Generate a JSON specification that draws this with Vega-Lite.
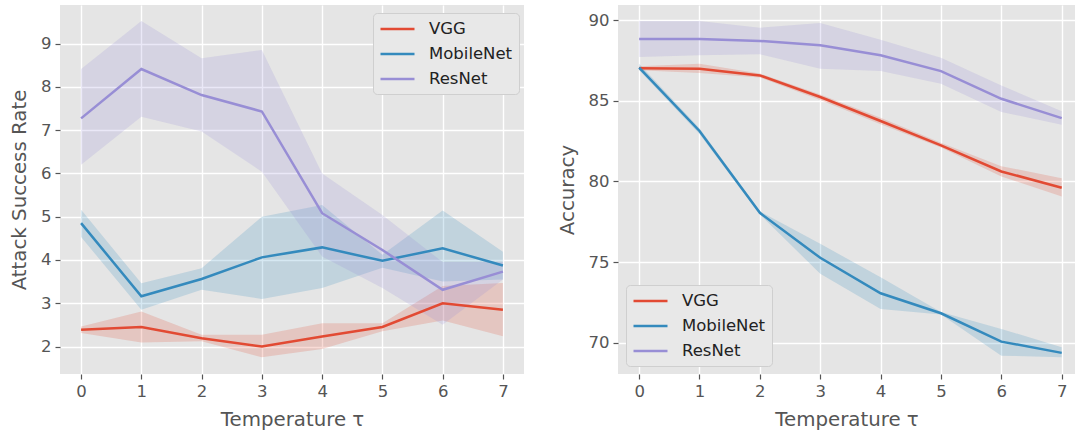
{
  "$schema": "https://vega.github.io/schema/vega-lite/v6.json",
  "padding": {"left": 9, "top": 5, "right": 0, "bottom": 0},
  "background": "white",
  "spacing": 33,
  "datasets": {
    "asr": [
      {"model": "VGG", "t": 0, "mean": 2.39, "lo": 2.31, "hi": 2.46},
      {"model": "VGG", "t": 1, "mean": 2.45, "lo": 2.09, "hi": 2.81},
      {"model": "VGG", "t": 2, "mean": 2.19, "lo": 2.12, "hi": 2.27},
      {"model": "VGG", "t": 3, "mean": 2.00, "lo": 1.75, "hi": 2.27},
      {"model": "VGG", "t": 4, "mean": 2.23, "lo": 1.94, "hi": 2.54},
      {"model": "VGG", "t": 5, "mean": 2.45, "lo": 2.35, "hi": 2.54},
      {"model": "VGG", "t": 6, "mean": 3.00, "lo": 2.60, "hi": 3.40},
      {"model": "VGG", "t": 7, "mean": 2.85, "lo": 2.24, "hi": 3.47},
      {"model": "MobileNet", "t": 0, "mean": 4.85, "lo": 4.53, "hi": 5.16},
      {"model": "MobileNet", "t": 1, "mean": 3.16, "lo": 2.85, "hi": 3.46},
      {"model": "MobileNet", "t": 2, "mean": 3.56, "lo": 3.31, "hi": 3.81},
      {"model": "MobileNet", "t": 3, "mean": 4.06, "lo": 3.10, "hi": 5.00},
      {"model": "MobileNet", "t": 4, "mean": 4.29, "lo": 3.35, "hi": 5.27},
      {"model": "MobileNet", "t": 5, "mean": 3.98, "lo": 3.82, "hi": 4.12},
      {"model": "MobileNet", "t": 6, "mean": 4.27, "lo": 3.50, "hi": 5.14},
      {"model": "MobileNet", "t": 7, "mean": 3.87, "lo": 3.55, "hi": 4.19},
      {"model": "ResNet", "t": 0, "mean": 7.27, "lo": 6.20, "hi": 8.41},
      {"model": "ResNet", "t": 1, "mean": 8.41, "lo": 7.31, "hi": 9.52},
      {"model": "ResNet", "t": 2, "mean": 7.81, "lo": 6.97, "hi": 8.66},
      {"model": "ResNet", "t": 3, "mean": 7.43, "lo": 6.04, "hi": 8.85},
      {"model": "ResNet", "t": 4, "mean": 5.08, "lo": 4.08, "hi": 6.00},
      {"model": "ResNet", "t": 5, "mean": 4.23, "lo": 3.35, "hi": 5.04},
      {"model": "ResNet", "t": 6, "mean": 3.31, "lo": 2.50, "hi": 3.95},
      {"model": "ResNet", "t": 7, "mean": 3.73, "lo": 3.55, "hi": 3.95}
    ],
    "acc": [
      {"model": "VGG", "t": 0, "mean": 87.02, "lo": 86.90, "hi": 87.15},
      {"model": "VGG", "t": 1, "mean": 87.00, "lo": 86.73, "hi": 87.30},
      {"model": "VGG", "t": 2, "mean": 86.58, "lo": 86.45, "hi": 86.70},
      {"model": "VGG", "t": 3, "mean": 85.24, "lo": 85.05, "hi": 85.40},
      {"model": "VGG", "t": 4, "mean": 83.75, "lo": 83.55, "hi": 83.95},
      {"model": "VGG", "t": 5, "mean": 82.24, "lo": 82.10, "hi": 82.40},
      {"model": "VGG", "t": 6, "mean": 80.62, "lo": 80.31, "hi": 80.95},
      {"model": "VGG", "t": 7, "mean": 79.61, "lo": 79.07, "hi": 80.20},
      {"model": "MobileNet", "t": 0, "mean": 87.06, "lo": 86.90, "hi": 87.30},
      {"model": "MobileNet", "t": 1, "mean": 83.13, "lo": 82.95, "hi": 83.30},
      {"model": "MobileNet", "t": 2, "mean": 78.05, "lo": 77.95, "hi": 78.15},
      {"model": "MobileNet", "t": 3, "mean": 75.26, "lo": 74.27, "hi": 76.13},
      {"model": "MobileNet", "t": 4, "mean": 73.06, "lo": 72.09, "hi": 74.06},
      {"model": "MobileNet", "t": 5, "mean": 71.82, "lo": 71.75, "hi": 71.90},
      {"model": "MobileNet", "t": 6, "mean": 70.06, "lo": 69.19, "hi": 70.85},
      {"model": "MobileNet", "t": 7, "mean": 69.36, "lo": 69.09, "hi": 69.71},
      {"model": "ResNet", "t": 0, "mean": 88.84, "lo": 87.72, "hi": 89.96},
      {"model": "ResNet", "t": 1, "mean": 88.84, "lo": 87.83, "hi": 89.96},
      {"model": "ResNet", "t": 2, "mean": 88.72, "lo": 87.89, "hi": 89.54},
      {"model": "ResNet", "t": 3, "mean": 88.45, "lo": 87.00, "hi": 89.83},
      {"model": "ResNet", "t": 4, "mean": 87.83, "lo": 86.85, "hi": 88.80},
      {"model": "ResNet", "t": 5, "mean": 86.85, "lo": 86.07, "hi": 87.68},
      {"model": "ResNet", "t": 6, "mean": 85.13, "lo": 84.31, "hi": 85.96},
      {"model": "ResNet", "t": 7, "mean": 83.93, "lo": 83.52, "hi": 84.35}
    ]
  },
  "hconcat": [
    {
      "width": 464,
      "height": 369,
      "data": {"name": "asr"},
      "layer": [
        {
          "mark": {"type": "area", "opacity": 0.2},
          "encoding": {
            "x": {"field": "t", "type": "quantitative", "scale": {"domain": [-0.35, 7.35], "nice": false, "zero": false}, "axis": {"values": [0, 1, 2, 3, 4, 5, 6, 7], "title": "Temperature τ", "format": "d"}},
            "y": {"field": "lo", "type": "quantitative", "scale": {"domain": [1.365, 9.89], "nice": false, "zero": false}, "axis": {"values": [2, 3, 4, 5, 6, 7, 8, 9], "title": "Attack Success Rate"}},
            "y2": {"field": "hi"},
            "color": {"field": "model", "type": "nominal", "sort": ["VGG", "MobileNet", "ResNet"], "scale": {"domain": ["VGG", "MobileNet", "ResNet"], "range": ["#E24A33", "#348ABD", "#988ED5"]}}
          }
        },
        {
          "mark": {"type": "line", "strokeWidth": 2.5},
          "encoding": {
            "x": {"field": "t", "type": "quantitative"},
            "y": {"field": "mean", "type": "quantitative"},
            "color": {"field": "model", "type": "nominal", "sort": ["VGG", "MobileNet", "ResNet"], "legend": {"title": null, "orient": "none", "legendX": 313, "legendY": 8}}
          }
        }
      ]
    },
    {
      "width": 457,
      "height": 369,
      "data": {"name": "acc"},
      "layer": [
        {
          "mark": {"type": "area", "opacity": 0.2},
          "encoding": {
            "x": {"field": "t", "type": "quantitative", "scale": {"domain": [-0.35, 7.22], "nice": false, "zero": false}, "axis": {"values": [0, 1, 2, 3, 4, 5, 6, 7], "title": "Temperature τ", "format": "d"}},
            "y": {"field": "lo", "type": "quantitative", "scale": {"domain": [68.05, 90.95], "nice": false, "zero": false}, "axis": {"values": [70, 75, 80, 85, 90], "title": "Accuracy"}},
            "y2": {"field": "hi"},
            "color": {"field": "model", "type": "nominal", "sort": ["VGG", "MobileNet", "ResNet"], "scale": {"domain": ["VGG", "MobileNet", "ResNet"], "range": ["#E24A33", "#348ABD", "#988ED5"]}}
          }
        },
        {
          "mark": {"type": "line", "strokeWidth": 2.5},
          "encoding": {
            "x": {"field": "t", "type": "quantitative"},
            "y": {"field": "mean", "type": "quantitative"},
            "color": {"field": "model", "type": "nominal", "sort": ["VGG", "MobileNet", "ResNet"], "legend": {"title": null, "orient": "none", "legendX": 8, "legendY": 280}}
          }
        }
      ]
    }
  ],
  "resolve": {"scale": {"color": "independent"}, "legend": {"color": "independent"}},
  "config": {
    "view": {"fill": "#E5E5E5", "stroke": null},
    "font": "DejaVu Sans",
    "axis": {
      "grid": true,
      "gridColor": "#FFFFFF",
      "gridWidth": 1.4,
      "gridOpacity": 1,
      "domain": false,
      "tickColor": "#555555",
      "tickSize": 5,
      "tickWidth": 1.2,
      "labelColor": "#555555",
      "labelFont": "DejaVu Sans",
      "labelFontSize": 16.5,
      "labelPadding": 4,
      "titleFont": "DejaVu Sans",
      "titleFontSize": 19.8,
      "titleFontWeight": "normal",
      "titleColor": "#555555",
      "titlePadding": 11
    },
    "axisX": {"titlePadding": 10},
    "legend": {
      "labelFont": "DejaVu Sans",
      "labelFontSize": 16.5,
      "labelColor": "#222222",
      "fillColor": "#E8E8E8",
      "strokeColor": "#CFCFCF",
      "cornerRadius": 4,
      "padding": 6,
      "rowPadding": 6,
      "symbolType": "M-1,0H3",
      "symbolSize": 289,
      "symbolStrokeWidth": 2.5,
      "symbolOpacity": 1,
      "labelOffset": 30
    }
  }
}
